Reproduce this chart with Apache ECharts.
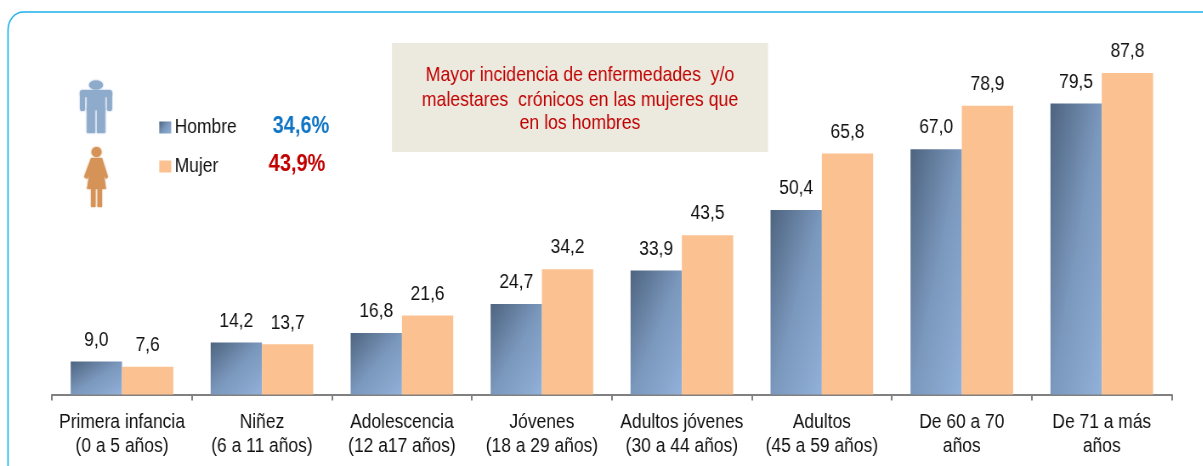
<!DOCTYPE html>
<html><head><meta charset="utf-8">
<style>html,body{margin:0;padding:0;background:#fff;overflow:hidden}
#wrap{width:1203px;height:466px;overflow:hidden;position:relative}
#c{height:466px;transform-origin:0 0;position:absolute;left:0;top:0}</style>
<script src="https://cdn.jsdelivr.net/npm/echarts@6/dist/echarts.min.js"></script>
</head><body><div id="wrap"><div id="c"></div></div>
<script>
const categories=['Primera infancia\n(0 a 5 años)','Niñez\n(6 a 11 años)','Adolescencia\n(12 a17 años)','Jóvenes\n(18 a 29 años)','Adultos jóvenes\n(30 a 44 años)','Adultos\n(45 a 59 años)','De 60 a 70\naños','De 71 a más\naños'];
const hombre=[9.0,14.2,16.8,24.7,33.9,50.4,67.0,79.5];
const mujer=[7.6,13.7,21.6,34.2,43.5,65.8,78.9,87.8];
const seriesNames=['Hombre','Mujer'];
const totals=['34,6%','43,9%'];
const note=['Mayor incidencia de enfermedades  y/o','malestares  crónicos en las mujeres que','en los hombres'];
const font='"Liberation Sans",Arial,sans-serif';
// The reference type is horizontally condensed: draw wider, then squeeze the whole chart in x.
const S=0.85, X=v=>v/S;
const box=document.getElementById('c');
box.style.width=(1203/S)+'px';
box.style.transform='scaleX('+S+')';
const chart=echarts.init(box,null,{renderer:'canvas'});
const stops=[{offset:0,color:'#4e6480'},{offset:0.5,color:'#7a97bc'},{offset:1,color:'#92b1d9'}];
const barW=X(51.3), pxPerUnit=3.656;
function grad(v){
  const h=v*pxPerUnit,w=barW,d=h*h+w*w;
  return new echarts.graphic.LinearGradient(0,0,2*h*h/d,2*w*w/d,stops);
}
const fmt=p=>p.value.toFixed(1).replace('.',',');
const label={show:true,position:'top',distance:11,formatter:fmt,color:'#111',fontSize:20.5,fontFamily:font};
const blue='#8fabcc',orange='#d59358';
const blur=c=>({shadowBlur:2,shadowColor:c});
const R=(x,y,w,h,c,r)=>({type:'rect',shape:{x:X(x),y,width:X(w),height:h,r:r||0},style:{fill:c,...blur(c)}});
const noteText=(y,t)=>({type:'text',style:{x:X(580),y,text:t,align:'center',verticalAlign:'middle',fill:'#c00000',font:'20.8px '+font}});
chart.setOption({
 animation:false,
 backgroundColor:'#fff',
 grid:{left:X(52),right:X(31),top:28.4,bottom:71.5},
 legend:{orient:'vertical',left:X(155),top:112,itemWidth:X(12),itemHeight:12,itemGap:18,icon:'rect',
  data:seriesNames,textStyle:{fontSize:20.5,fontFamily:font,color:'#111',padding:[0,0,0,-1]}},
 xAxis:{type:'category',data:categories,
  axisLine:{lineStyle:{color:'#808080',width:2}},
  axisTick:{show:true,length:6,alignWithLabel:false,lineStyle:{color:'#808080',width:2}},
  axisLabel:{color:'#111',fontSize:20.5,fontFamily:font,lineHeight:24,margin:16,interval:0}},
 yAxis:{type:'value',min:0,max:100,show:false,splitLine:{show:false}},
 series:[
  {name:seriesNames[0],type:'bar',data:hombre.map(v=>({value:v,itemStyle:{color:grad(v)}})),barWidth:barW,barGap:0,itemStyle:{color:new echarts.graphic.LinearGradient(0,0,1,1,stops)},label},
  {name:seriesNames[1],type:'bar',data:mujer,barWidth:barW,barGap:0,itemStyle:{color:'#fbc190'},label}
 ],
 graphic:[
  {type:'rect',z:-1,shape:{x:X(8),y:12,width:X(1300),height:600,r:18},style:{fill:'none',stroke:'#1fb0ea',lineWidth:1.6}},
  {type:'rect',z:-1,shape:{x:X(392),y:43,width:X(376),height:109},style:{fill:'#ece9df'}},
  noteText(75,note[0]),noteText(100,note[1]),noteText(123,note[2]),
  {type:'text',style:{x:X(301),y:127,text:totals[0],align:'center',verticalAlign:'middle',fill:'#0f75c5',font:'bold 23.5px '+font}},
  {type:'text',style:{x:X(297),y:165,text:totals[1],align:'center',verticalAlign:'middle',fill:'#c00000',font:'bold 23.5px '+font}},
  // man icon
  {type:'group',children:[
   {type:'ellipse',shape:{cx:X(96),cy:85,rx:X(7),ry:4.5},style:{fill:blue,...blur(blue)}},
   R(80,90,32,7,blue,3),R(80,91,5,20,blue,2),R(107,91,5,20,blue,2),R(87,92,18,18,blue),
   R(87,108,8,25,blue),R(97,108,8,25,blue)
  ]},
  // woman icon
  {type:'group',children:[
   {type:'ellipse',shape:{cx:X(96.5),cy:152,rx:X(5),ry:5},style:{fill:orange,...blur(orange)}},
   {type:'polygon',shape:{points:[[91,158],[102,158],[108,177],[106,179],[104,175],[106,189],[87,189],[89,175],[87,179],[84,177]].map(p=>[X(p[0]),p[1]])},style:{fill:orange,...blur(orange)}},
   R(91,188,4.5,19,orange),R(97.5,188,4.5,19,orange)
  ]}
 ]
});
</script></body></html>
